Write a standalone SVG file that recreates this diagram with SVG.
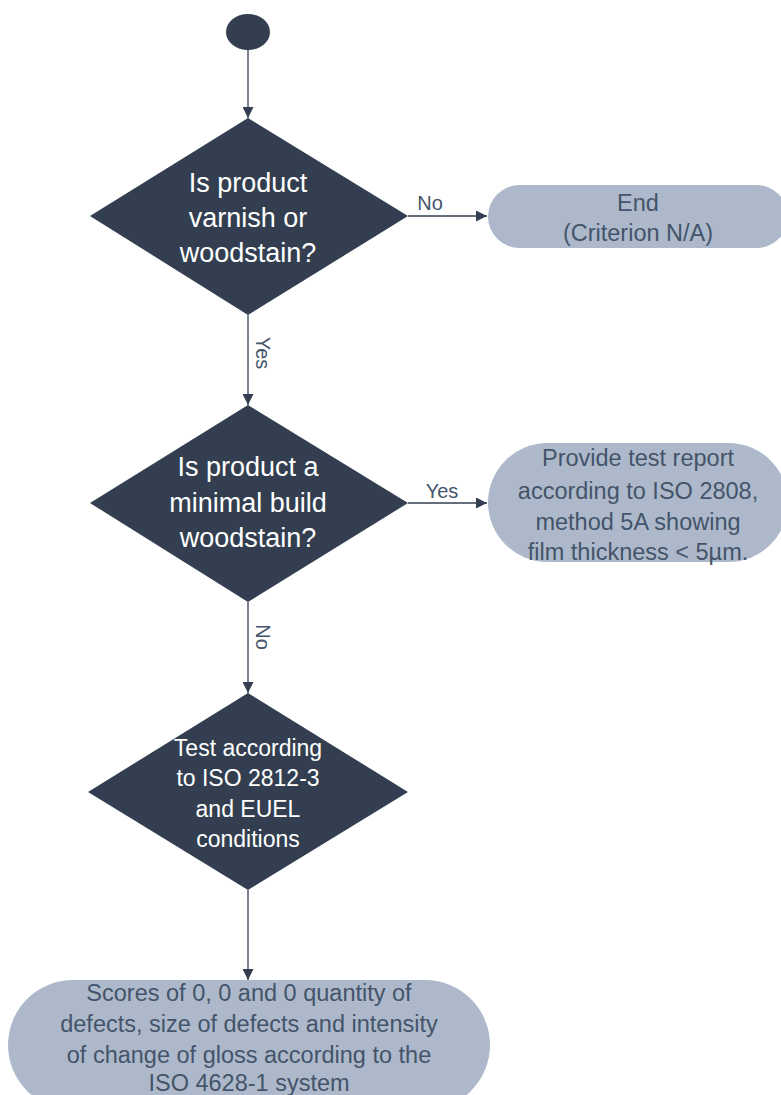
<svg xmlns="http://www.w3.org/2000/svg" width="781" height="1095" viewBox="0 0 781 1095">
<style>
.dark{fill:#333F50}
.pill{fill:#ADB9CA}
.wt{fill:#FFFFFF;font-family:"Liberation Sans",Arial,sans-serif;font-size:27px;text-anchor:middle}
.wt3{fill:#FFFFFF;font-family:"Liberation Sans",Arial,sans-serif;font-size:23px;text-anchor:middle}
.pt{fill:#44546A;font-family:"Liberation Sans",Arial,sans-serif;font-size:23.5px;text-anchor:middle}
.lbl{fill:#44546A;font-family:"Liberation Sans",Arial,sans-serif;font-size:20px;text-anchor:middle}
.conn{stroke:#333F50;stroke-width:1.3;fill:none;marker-end:url(#ah)}
</style>
<defs>
<marker id="ah" viewBox="0 0 10 10" refX="10" refY="5" markerWidth="11" markerHeight="11" markerUnits="userSpaceOnUse" orient="auto">
<path d="M0,0 L10,5 L0,10 z" fill="#333F50"/>
</marker>
</defs>
<rect width="781" height="1095" fill="#FFFFFF"/>
<g id="connectors">
<line class="conn" x1="248" y1="50" x2="248" y2="118"/>
<line class="conn" x1="408" y1="216" x2="487" y2="216"/>
<text class="lbl" x="430" y="210">No</text>
<line class="conn" x1="248" y1="315" x2="248" y2="405"/>
<text class="lbl" transform="translate(256,353) rotate(90)">Yes</text>
<line class="conn" x1="408" y1="503" x2="487" y2="503"/>
<text class="lbl" x="442" y="498">Yes</text>
<line class="conn" x1="248" y1="602" x2="248" y2="693"/>
<text class="lbl" transform="translate(256,637) rotate(90)">No</text>
<line class="conn" x1="248" y1="890" x2="248" y2="980"/>
</g>
<g id="start">
<ellipse class="dark" cx="248" cy="32" rx="22" ry="18"/>
</g>
<g id="decision1">
<polygon class="dark" points="248,118 408,216 248,315 90,216"/>
<text class="wt" x="248" y="192">Is product</text>
<text class="wt" x="248" y="227">varnish or</text>
<text class="wt" x="248" y="262">woodstain?</text>
</g>
<g id="end1">
<rect class="pill" x="488" y="185" width="300" height="63" rx="31.5"/>
<text class="pt" x="638" y="211">End</text>
<text class="pt" x="638" y="241">(Criterion N/A)</text>
</g>
<g id="decision2">
<polygon class="dark" points="248,405 408,503 248,602 90,503"/>
<text class="wt" x="248" y="476">Is product a</text>
<text class="wt" x="248" y="512">minimal build</text>
<text class="wt" x="248" y="547">woodstain?</text>
</g>
<g id="end2">
<rect class="pill" x="488" y="443" width="300" height="119" rx="59.5"/>
<text class="pt" x="638" y="466">Provide test report</text>
<text class="pt" x="638" y="499">according to ISO 2808,</text>
<text class="pt" x="638" y="530">method 5A showing</text>
<text class="pt" x="638" y="560">film thickness &lt; 5µm.</text>
</g>
<g id="decision3">
<polygon class="dark" points="248,693 408,792 248,890 88,792"/>
<text class="wt3" x="248" y="756">Test according</text>
<text class="wt3" x="248" y="786">to ISO 2812-3</text>
<text class="wt3" x="248" y="817">and EUEL</text>
<text class="wt3" x="248" y="847">conditions</text>
</g>
<g id="end3">
<rect class="pill" x="8" y="980" width="482" height="130" rx="65"/>
<text class="pt" x="249" y="1001">Scores of 0, 0 and 0 quantity of</text>
<text class="pt" x="249" y="1032">defects, size of defects and intensity</text>
<text class="pt" x="249" y="1063">of change of gloss according to the</text>
<text class="pt" x="249" y="1091">ISO 4628-1 system</text>
</g>
</svg>
